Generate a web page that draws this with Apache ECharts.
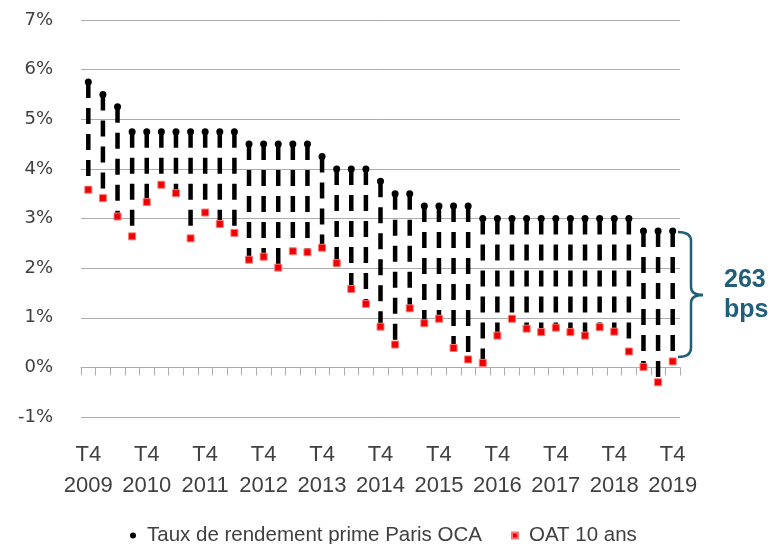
<!DOCTYPE html>
<html>
<head>
<meta charset="utf-8">
<script src="https://cdn.jsdelivr.net/npm/echarts@6/dist/echarts.min.js"></script>
<style>
html,body{margin:0;padding:0;background:#fff;}
#c{width:773px;height:544px;}
</style>
</head>
<body>
<div id="c"></div>
<script>
const categories = [
  "T4 2009",
  "T1 2010","T2 2010","T3 2010","T4 2010",
  "T1 2011","T2 2011","T3 2011","T4 2011",
  "T1 2012","T2 2012","T3 2012","T4 2012",
  "T1 2013","T2 2013","T3 2013","T4 2013",
  "T1 2014","T2 2014","T3 2014","T4 2014",
  "T1 2015","T2 2015","T3 2015","T4 2015",
  "T1 2016","T2 2016","T3 2016","T4 2016",
  "T1 2017","T2 2017","T3 2017","T4 2017",
  "T1 2018","T2 2018","T3 2018","T4 2018",
  "T1 2019","T2 2019","T3 2019","T4 2019"
];
const primeYield = [
  5.75, 5.50, 5.25, 4.75, 4.75, 4.75, 4.75, 4.75, 4.75, 4.75, 4.75,
  4.50, 4.50, 4.50, 4.50, 4.50, 4.25, 4.00, 4.00, 4.00, 3.75,
  3.50, 3.50, 3.25, 3.25, 3.25, 3.25, 3.00, 3.00, 3.00, 3.00,
  3.00, 3.00, 3.00, 3.00, 3.00, 3.00, 3.00, 2.75, 2.75, 2.75
];
const oat10 = [
  3.58, 3.41, 3.04, 2.64, 3.33, 3.68, 3.51, 2.60, 3.12, 2.89, 2.71,
  2.17, 2.23, 2.01, 2.34, 2.32, 2.41, 2.10, 1.58, 1.28, 0.82,
  0.46, 1.19, 0.89, 0.98, 0.39, 0.16, 0.09, 0.64, 0.98, 0.78,
  0.71, 0.80, 0.71, 0.64, 0.81, 0.72, 0.32, 0.01, -0.30, 0.12
];
const yTicks = { min: -1, max: 7, interval: 1 };
const seriesNames = ["Taux de rendement prime Paris OCA", "OAT 10 ans"];

const spreadData = categories.map((c, i) => [i, primeYield[i], oat10[i]]);

const chart = echarts.init(document.getElementById('c'), null, {renderer: 'canvas'});
const gray = '#acacac';
const txt = '#404040';
const teal = '#1f5f7a';
const bStyle = { stroke: teal, lineWidth: 2.5, fill: null };
chart.setOption({
  animation: false,
  backgroundColor: '#fff',
  grid: { left: 81, right: 93, top: 20, bottom: 127, containLabel: false },
  legend: {
    left: 130, top: 525, padding: 0,
    itemWidth: 6, itemHeight: 6, itemGap: 29,
    textStyle: { fontFamily: 'Liberation Sans', fontSize: 20.5, color: txt, padding: [0, 0, 0, 6] },
    data: [
      { name: seriesNames[0], icon: 'circle' },
      { name: seriesNames[1], icon: 'rect' }
    ]
  },
  xAxis: [
    {
      type: 'category', data: categories, boundaryGap: true,
      axisLine: { show: true, onZero: true, lineStyle: { color: gray, width: 1 } },
      axisTick: { show: true, interval: 0, length: 8, lineStyle: { color: gray, width: 1 } },
      axisLabel: { show: false },
      splitLine: { show: false }
    },
    {
      type: 'category', data: categories, boundaryGap: true, position: 'bottom',
      axisLine: { show: false, onZero: false },
      axisTick: { show: false },
      axisLabel: {
        show: true, interval: 3, margin: 22,
        fontFamily: 'Liberation Sans', fontSize: 22, lineHeight: 31, color: txt,
        formatter: v => v.replace(' ', '\n')
      }
    }
  ],
  yAxis: {
    type: 'value', min: yTicks.min, max: yTicks.max, interval: yTicks.interval,
    axisLine: { show: false }, axisTick: { show: false },
    splitLine: { show: true, lineStyle: { color: gray, width: 1 } },
    axisLabel: { margin: 28, fontFamily: 'DejaVu Sans', fontSize: 18, color: txt,
      formatter: v => v + '%' }
  },
  series: [
    {
      type: 'custom', name: 'spread', xAxisIndex: 0, z: 2,
      data: spreadData,
      encode: { x: 0, y: [1, 2] },
      renderItem: function (params, api) {
        const i = api.value(0);
        const p1 = api.coord([i, api.value(1)]);
        const p2 = api.coord([i, api.value(2)]);
        return {
          type: 'line',
          shape: { x1: p1[0], y1: p1[1], x2: p2[0], y2: p2[1] },
          style: { stroke: '#000', lineWidth: 4.5, lineDash: [16, 10], lineCap: 'butt' }
        };
      }
    },
    {
      type: 'scatter', name: seriesNames[0], xAxisIndex: 0, z: 3,
      data: primeYield, symbol: 'circle', symbolSize: 7,
      itemStyle: { color: '#000', opacity: 1 }
    },
    {
      type: 'scatter', name: seriesNames[1], xAxisIndex: 0, z: 4,
      data: oat10, symbol: 'rect', symbolSize: 7,
      itemStyle: { color: '#f00000', borderColor: '#ff7777', borderWidth: 1, opacity: 1 }
    }
  ],
  graphic: [
    { type: 'bezierCurve', z: 10, shape: { x1: 678, y1: 232, cpx1: 691, cpy1: 232, x2: 691, y2: 241 }, style: bStyle },
    { type: 'line', z: 10, shape: { x1: 691, y1: 241, x2: 691, y2: 287 }, style: bStyle },
    { type: 'bezierCurve', z: 10, shape: { x1: 691, y1: 287, cpx1: 691, cpy1: 295, x2: 703, y2: 295 }, style: bStyle },
    { type: 'bezierCurve', z: 10, shape: { x1: 703, y1: 295, cpx1: 691, cpy1: 295, x2: 691, y2: 303 }, style: bStyle },
    { type: 'line', z: 10, shape: { x1: 691, y1: 303, x2: 691, y2: 348 }, style: bStyle },
    { type: 'bezierCurve', z: 10, shape: { x1: 691, y1: 348, cpx1: 691, cpy1: 357, x2: 678, y2: 357 }, style: bStyle },
    {
      type: 'text', z: 10, left: 724, top: 268,
      style: { text: '263', font: 'bold 25px "Liberation Sans"', fill: teal }
    },
    {
      type: 'text', z: 10, left: 724, top: 298,
      style: { text: 'bps', font: 'bold 25px "Liberation Sans"', fill: teal }
    }
  ]
});
</script>
</body>
</html>
